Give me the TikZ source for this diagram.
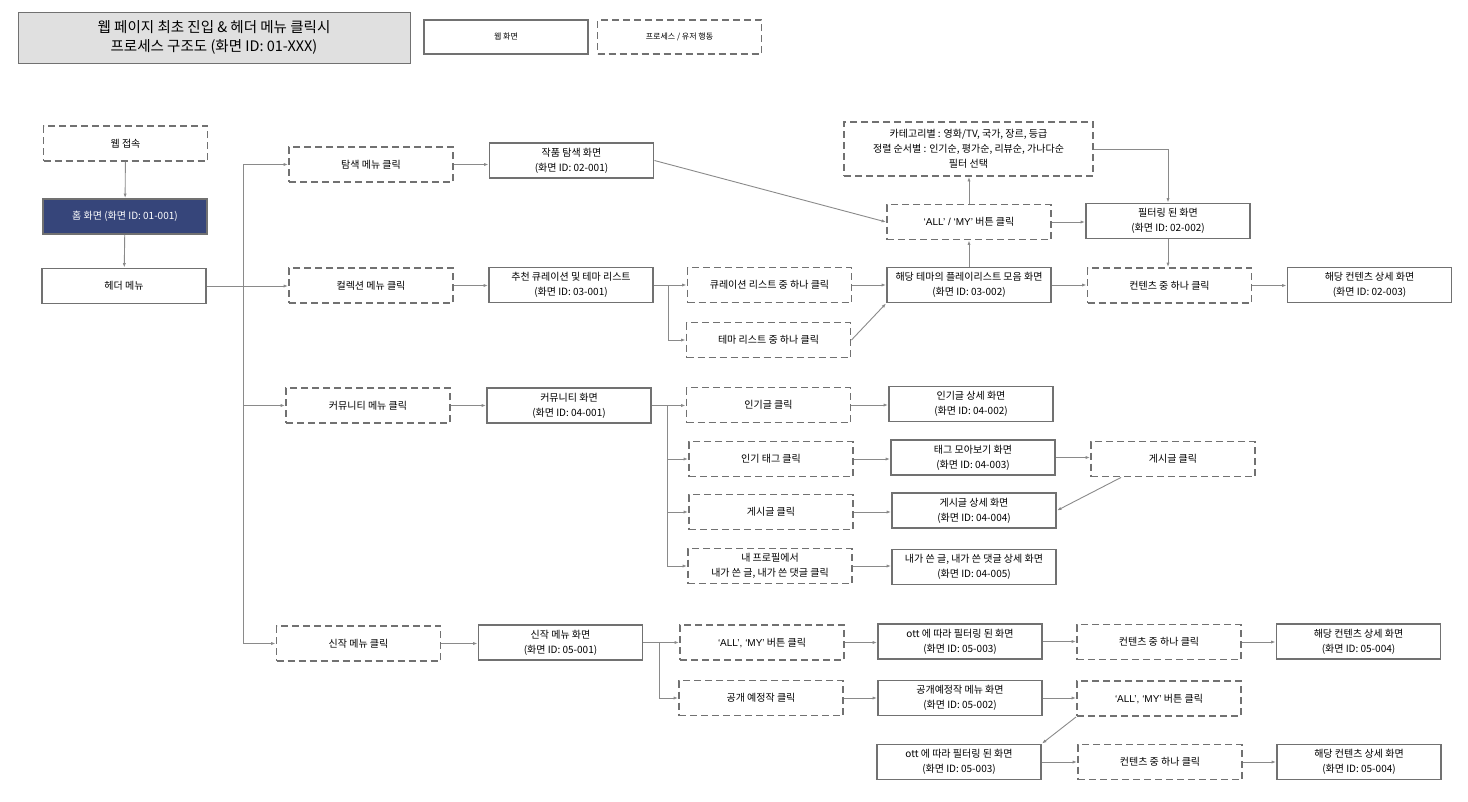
\documentclass[tikz,border=0pt]{standalone}
\usepackage{fontspec}
\setmainfont{Noto Sans CJK KR}
\newfontfamily\latinfont{Liberation Sans}
\usetikzlibrary{arrows.meta}
\definecolor{bordergray}{HTML}{717171}
\definecolor{linegray}{HTML}{8A8A8A}
\definecolor{navy}{HTML}{36457A}
\definecolor{titlegray}{HTML}{E0E0E0}
\begin{document}
\begin{tikzpicture}[x=1pt,y=-1pt,
 every node/.style={font=\fontsize{10}{15}\selectfont, align=center, inner sep=1pt},
 screen/.style={draw=bordergray, line width=1.9pt, minimum width=164pt, minimum height=35pt, fill=white},
 action/.style={draw=bordergray, line width=1.9pt, dash pattern=on 7pt off 4pt, minimum width=164pt, minimum height=35pt},
 conn/.style={draw=linegray, line width=0.9pt, -{Latex[length=4.5pt,width=3.2pt]}},
 link/.style={draw=linegray, line width=0.9pt}
]
\useasboundingbox (0,0) rectangle (1468,801);
\fill[white] (0,0) rectangle (1468,801);

% title and legend
\node[draw=bordergray, fill=titlegray, line width=1pt, minimum width=392pt, minimum height=51pt,
      font=\fontsize{14.5}{18.5}\selectfont] (title) at (214,37.5)
      {웹 페이지 최초 진입 \& 헤더 메뉴 클릭시\\프로세스 구조도 (화면 ID: 01-XXX)};
\node[screen, minimum height=34pt, font=\fontsize{8}{10}\selectfont] (lg1) at (506,37) {웹 화면};
\node[action, minimum height=34pt, font=\fontsize{8}{10}\selectfont] (lg2) at (679.5,37) {프로세스 / 유저 행동};

% left column
\node[action] (web) at (125.5,143.5) {웹 접속};
\node[screen, fill=navy, text=white] (home) at (125,216.5) {홈 화면 (화면 ID: 01-001)};
\node[screen] (header) at (124,286) {헤더 메뉴};

% menus
\node[action] (m1) at (371,164.5) {탐색 메뉴 클릭};
\node[action] (m2) at (371,285.5) {컬렉션 메뉴 클릭};
\node[action] (m3) at (368,405.5) {커뮤니티 메뉴 클릭};
\node[action] (m4) at (358.5,643.5) {신작 메뉴 클릭};

% explore
\node[screen] (s21) at (571.5,160.5) {작품 탐색 화면\\(화면 ID: 02-001)};
\node[action] (allmy) at (969,222) {{\latinfont ‘ALL’ / ‘MY’} 버튼 클릭};
\node[action, minimum width=249pt, minimum height=54pt] (filt) at (968.5,149)
  {카테고리별 : 영화/TV, 국가, 장르, 등급\\정렬 순서별 : 인기순, 평가순, 리뷰순, 가나다순\\필터 선택};
\node[screen] (s22) at (1168,221) {필터링 된 화면\\(화면 ID: 02-002)};

% collection
\node[screen] (s31) at (571,285) {추천 큐레이션 및 테마 리스트\\(화면 ID: 03-001)};
\node[action] (cur) at (769.5,285) {큐레이션 리스트 중 하나 클릭};
\node[action] (theme) at (768.5,340) {테마 리스트 중 하나 클릭};
\node[screen] (s32) at (969,285) {해당 테마의 플레이리스트 모음 화면\\(화면 ID: 03-002)};
\node[action] (cc1) at (1169.5,285.5) {컨텐츠 중 하나 클릭};
\node[screen] (s23) at (1369.5,285) {해당 컨텐츠 상세 화면\\(화면 ID: 02-003)};

% community
\node[screen] (s41) at (569,405.5) {커뮤니티 화면\\(화면 ID: 04-001)};
\node[action] (pop) at (768.5,405) {인기글 클릭};
\node[action] (tag) at (771,459) {인기 태그 클릭};
\node[action] (post) at (771,512) {게시글 클릭};
\node[action] (mine) at (770,566) {내 프로필에서\\내가 쓴 글, 내가 쓴 댓글 클릭};
\node[screen] (s42) at (971,404) {인기글 상세 화면\\(화면 ID: 04-002)};
\node[screen] (s43) at (973,457.5) {태그 모아보기 화면\\(화면 ID: 04-003)};
\node[action] (post2) at (1173,459) {게시글 클릭};
\node[screen] (s44) at (974,510.5) {게시글 상세 화면\\(화면 ID: 04-004)};
\node[screen] (s45) at (974,567) {내가 쓴 글, 내가 쓴 댓글 상세 화면\\(화면 ID: 04-005)};

% new releases
\node[screen] (s51) at (560.5,642.5) {신작 메뉴 화면\\(화면 ID: 05-001)};
\node[action] (amy1) at (762,642.5) {{\latinfont ‘ALL’, ‘MY’} 버튼 클릭};
\node[action] (soon) at (761,698) {공개 예정작 클릭};
\node[screen] (s53a) at (960,641.5) {ott 에 따라 필터링 된 화면\\(화면 ID: 05-003)};
\node[action] (cc2) at (1159,642) {컨텐츠 중 하나 클릭};
\node[screen] (s54a) at (1358.5,641.5) {해당 컨텐츠 상세 화면\\(화면 ID: 05-004)};
\node[screen] (s52) at (960,698) {공개예정작 메뉴 화면\\(화면 ID: 05-002)};
\node[action] (amy2) at (1159,698.5) {{\latinfont ‘ALL’, ‘MY’} 버튼 클릭};
\node[screen] (s53b) at (959,762) {ott 에 따라 필터링 된 화면\\(화면 ID: 05-003)};
\node[action] (cc3) at (1160,762) {컨텐츠 중 하나 클릭};
\node[screen] (s54b) at (1359,762) {해당 컨텐츠 상세 화면\\(화면 ID: 05-004)};

% connectors: left
\draw[conn] (web) -- (home);
\draw[conn] (home) -- (header);
\draw[conn] (header.east) -- (header.east -| m2.west);
\coordinate (bus) at (243,0);
\draw[link] (bus |- m1.west) -- (bus |- m4.west);
\draw[conn] (bus |- m1.west) -- (m1.west);
\draw[conn] (bus |- m3.west) -- (m3.west);
\draw[conn] (bus |- m4.west) -- (m4.west);

% explore
\draw[conn] (m1.east) -- (m1.east -| s21.west);
\draw[conn] (s21.east) -- (allmy.west);
\draw[conn] (allmy.north) -- (allmy.north |- filt.south);
\draw[conn] (s32.north) -- (s32.north |- allmy.south);
\draw[conn] (allmy.east) -- (allmy.east -| s22.west);
\draw[conn] (filt.east) -| (s22.north);
\draw[conn] (s22.south) -- (s22.south |- cc1.north);

% collection
\draw[conn] (m2.east) -- (m2.east -| s31.west);
\draw[conn] (s31.east) -- (s31.east -| cur.west);
\coordinate (b3) at (668,0);
\draw[conn] (b3 |- s31.east) |- (theme.west);
\draw[conn] (cur.east) -- (cur.east -| s32.west);
\draw[conn] (theme.east) -- (s32.south west);
\draw[conn] (s32.east) -- (s32.east -| cc1.west);
\draw[conn] (cc1.east) -- (cc1.east -| s23.west);

% community
\draw[conn] (m3.east) -- (m3.east -| s41.west);
\draw[conn] (s41.east) -- (s41.east -| pop.west);
\coordinate (b4) at (667,0);
\draw[link] (b4 |- s41.east) -- (b4 |- mine.west);
\draw[conn] (b4 |- tag.west) -- (tag.west);
\draw[conn] (b4 |- post.west) -- (post.west);
\draw[conn] (b4 |- mine.west) -- (mine.west);
\draw[conn] (pop.east) -- (pop.east -| s42.west);
\draw[conn] (tag.east) -- (tag.east -| s43.west);
\draw[conn] (s43.east) -- (s43.east -| post2.west);
\draw[conn] ([xshift=31pt]post2.south west) -- (s44.east);
\draw[conn] (post.east) -- (post.east -| s44.west);
\draw[conn] (mine.east) -- (mine.east -| s45.west);

% new releases
\draw[conn] (m4.east) -- (m4.east -| s51.west);
\draw[conn] (s51.east) -- (s51.east -| amy1.west);
\coordinate (b5) at (659,0);
\draw[conn] (b5 |- s51.east) |- (soon.west);
\draw[conn] (amy1.east) -- (amy1.east -| s53a.west);
\draw[conn] (s53a.east) -- (s53a.east -| cc2.west);
\draw[conn] (cc2.east) -- (cc2.east -| s54a.west);
\draw[conn] (soon.east) -- (soon.east -| s52.west);
\draw[conn] (s52.east) -- (s52.east -| amy2.west);
\draw[conn] (amy2.south west) -- (s53b.north east);
\draw[conn] (s53b.east) -- (s53b.east -| cc3.west);
\draw[conn] (cc3.east) -- (cc3.east -| s54b.west);
\end{tikzpicture}
\end{document}
